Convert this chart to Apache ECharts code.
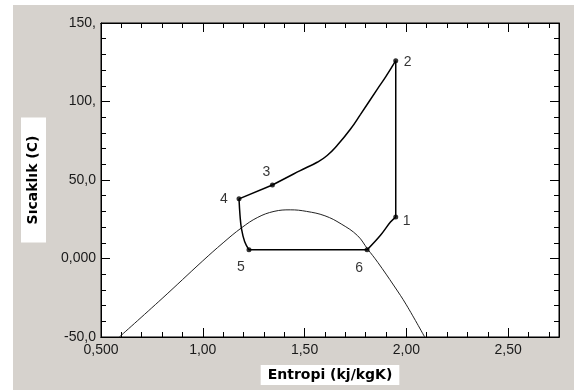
<!DOCTYPE html>
<html>
<head>
<meta charset="utf-8">
<script src="https://cdn.jsdelivr.net/npm/echarts@6/dist/echarts.min.js"></script>
<style>
  html, body { margin: 0; padding: 0; background: #fff; }
  #panel { position: absolute; left: 13px; top: 5px; width: 561px; height: 385px; background: #d6d2cd; }
</style>
</head>
<body>
<div id="panel"></div>
<script>
// tick labels (Turkish decimal comma, as printed on the chart)
const xTickValues = [0.5, 1.0, 1.5, 2.0, 2.5];
const xTickLabels = ['0,500', '1,00', '1,50', '2,00', '2,50'];
const yTickValues = [-50, 0, 50, 100, 150];
const yTickLabels = ['-50,0', '0,000', '50,0', '100,', '150,'];

// saturation dome
const domeEntropy = [0.59, 0.80, 1.00, 1.10, 1.19, 1.27, 1.35, 1.43, 1.51, 1.60, 1.68, 1.76, 1.81, 1.86, 1.94, 2.00, 2.09];
const domeTemp = [-50, -25.5, -1.5, 10, 19.5, 26.2, 30, 31, 30, 27.2, 22, 14.6, 6, -2.5, -17.5, -29.5, -50];

// cycle state points
const stateNames = ['1', '2', '3', '4', '5', '6'];
const stateEntropy = [1.948, 1.948, 1.342, 1.178, 1.227, 1.807];
const stateTemp = [26.4, 126, 46.8, 38, 5.5, 5.5];

// curved processes
const p23Entropy = [1.948, 1.900, 1.856, 1.775, 1.725, 1.660, 1.611, 1.562, 1.500, 1.446, 1.342];
const p23Temp = [126, 116, 107.6, 91.8, 82.3, 72, 65.6, 61.3, 57.3, 53.8, 46.8];
const p45Entropy = [1.178, 1.183, 1.190, 1.206, 1.227];
const p45Temp = [38, 27.4, 19, 10.6, 5.5];
const p61Entropy = [1.807, 1.873, 1.922, 1.948];
const p61Temp = [5.5, 14.8, 23.2, 26.4];

const zip = (xs, ys) => xs.map((x, i) => [x, ys[i]]);
const statePt = (i) => [stateEntropy[i], stateTemp[i]];

const chart = echarts.init(document.getElementById('panel'), null, { renderer: 'canvas' });

const tickFont = { fontFamily: 'Liberation Sans, Arial, sans-serif', fontSize: 14, color: '#1a1a1a' };
const nameFont = { fontFamily: 'DejaVu Sans, sans-serif', fontSize: 14, fontWeight: 'bold', color: '#000', backgroundColor: '#fff' };

function lookup(values, labels) {
    return (v) => {
        const i = values.findIndex(t => Math.abs(t - v) < 1e-6);
        return i < 0 ? '' : labels[i];
    };
}

const xBase = {
    type: 'value', min: 0.5, max: 2.75,
    axisLine: { show: true, onZero: false, lineStyle: { color: '#000', width: 1 } },
    splitLine: { show: false },
};
const yBase = {
    type: 'value', min: -50, max: 150, interval: 50,
    axisLine: { show: true, onZero: false, lineStyle: { color: '#000', width: 1 } },
    axisTick: { inside: true, length: 9, lineStyle: { color: '#000' } },
    minorTick: { show: true, splitNumber: 5, length: 5, lineStyle: { color: '#000' } },
    splitLine: { show: false },
    minorSplitLine: { show: false },
};

const cycleLine = { color: '#000', width: 1.5 };
function processSeries(data, smooth) {
    return {
        type: 'line', data, smooth, showSymbol: false, symbol: 'none',
        lineStyle: cycleLine, silent: true,
    };
}

const labelOffsets = [[11, 4], [12, 1], [-6, -13], [-15, 0], [-8, 17], [-8, 18]];

chart.setOption({
    animation: false,
    grid: {
        left: 87, top: 18, right: 15, bottom: 53,
        show: true, backgroundColor: '#fff', borderColor: '#000', borderWidth: 1,
    },
    xAxis: [
        {
            ...xBase, position: 'bottom', interval: 0.5,
            axisTick: { inside: true, length: 9, lineStyle: { color: '#000' } },
            axisLabel: { ...tickFont, margin: 6, formatter: lookup(xTickValues, xTickLabels) },
            name: 'Entropi (kj/kgK)', nameLocation: 'middle', nameGap: 28,
            nameTextStyle: { ...nameFont, padding: [2, 7], lineHeight: 16 },
        },
        {
            ...xBase, position: 'bottom', interval: 0.1,
            axisTick: { inside: true, length: 5, lineStyle: { color: '#000' } },
            axisLabel: { show: false },
        },
        {
            ...xBase, position: 'top', interval: 0.5,
            axisTick: { inside: true, length: 9, lineStyle: { color: '#000' } },
            axisLabel: { show: false },
        },
        {
            ...xBase, position: 'top', interval: 0.1,
            axisTick: { inside: true, length: 5, lineStyle: { color: '#000' } },
            axisLabel: { show: false },
        },
    ],
    yAxis: [
        {
            ...yBase, position: 'left',
            axisLabel: { ...tickFont, margin: 5, formatter: lookup(yTickValues, yTickLabels) },
            name: 'Sıcaklık (C)', nameLocation: 'middle', nameRotate: 90, nameGap: 55,
            nameTextStyle: { ...nameFont, padding: [4, 18], lineHeight: 17 },
        },
        {
            ...yBase, position: 'right',
            axisLabel: { show: false },
        },
    ],
    series: [
        {
            type: 'line', data: zip(domeEntropy, domeTemp), smooth: 0.4,
            showSymbol: false, symbol: 'none', silent: true,
            lineStyle: { color: '#222', width: 1 },
        },
        processSeries([statePt(0), statePt(1)], false),
        processSeries(zip(p23Entropy, p23Temp), 0.5),
        processSeries([statePt(2), statePt(3)], false),
        processSeries(zip(p45Entropy, p45Temp), 0.4),
        processSeries([statePt(4), statePt(5)], false),
        processSeries(zip(p61Entropy, p61Temp), 0.4),
        {
            type: 'scatter', symbol: 'circle', symbolSize: 5,
            itemStyle: { color: '#000' },
            data: stateNames.map((n, i) => ({
                name: n, value: statePt(i),
                label: { offset: labelOffsets[i] },
            })),
            label: {
                show: true, position: 'inside', formatter: '{b}',
                ...tickFont, color: '#000',
            },
            z: 5,
        },
    ],
});
</script>
</body>
</html>
